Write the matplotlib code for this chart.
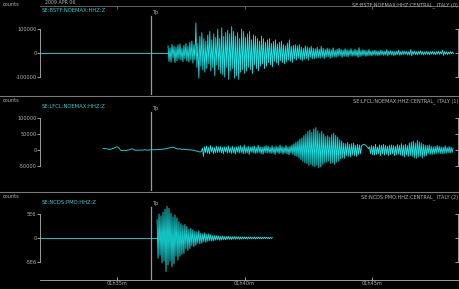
import numpy as np
import matplotlib.pyplot as plt
from matplotlib.lines import Line2D

# time axis: minutes after 01h00m UTC, amplitudes in thousands of counts
t_left, t_right = 31.98, 48.37
tp_time = 36.33
dt = 0.039

bstf_start = 31.98
bstf_onset = 37.0
bstf_k = [30, -35, 22, -38, 36, -20, 28, -40, 25, -32,
          34, -26, 38, -30, 20, -36, 32, -24, 40, -34,
          28, -38, 45, -30, 50, -42, 35, -28, 125, -60,
          40, -105, 70, -55, 85, -70, 60, -80, 50, -65,
          75, -45, 90, -75, 55, -60, 80, -95, 65, -50,
          100, -70, 60, -85, 105, -90, 70, -100, 85, -60,
          95, -110, 80, -75, 110, -65, 90, -105, 70, -95,
          85, -110, 60, -80, 100, -70, 90, -85, 65, -75,
          80, -60, 90, -70, 55, -85, 75, -50, 70, -65,
          60, -75, 50, -55, 70, -45, 60, -65, 45, -55,
          55, -40, 60, -50, 40, -58, 48, -35, 55, -42,
          38, -50, 45, -32, 50, -40, 35, -45, 30, -38,
          42, -30, 55, -35, 28, -40, 32, -25, 35, -30,
          30, -22, 35, -28, 25, -32, 20, -26, 30, -24,
          26, -30, 22, -18, 28, -25, 20, -24, 18, -22,
          24, -20, 16, -22, 28, -18, 20, -24, 15, -18,
          20, -15, 18, -22, 14, -18, 22, -16, 12, -18,
          16, -14, 20, -12, 15, -18, 12, -14, 18, -15,
          14, -16, 12, -10, 18, -14, 10, -12, 16, -13,
          12, -18, 22, -15, 10, -12, 14, -10, 12, -14,
          10, -12, 15, -11, 8, -12, 10, -9, 12, -10,
          9, -11, 8, -10, 12, -8, 9, -10, 8, -9,
          14, -12, 8, -7, 10, -9, 8, -11, 7, -9,
          8, -7, 12, -10, 6, -8, 9, -7, 8, -6,
          7, -9, 6, -8, 14, -12, 7, -6, 8, -7,
          6, -8, 7, -5, 9, -7, 6, -8, 5, -6,
          7, -6, 5, -8, 6, -5, 7, -6, 5, -7,
          6, -5, 8, -6, 5, -4, 12, -10, 6, -5,
          5, -6, 4, -5, 6, -4, 5, -3]

lfcl_start = 34.45
lfcl_k = [5, 5, 4, 4, 3, 3, 2, 2, 3, 4,
          5, 6, 7, 9, 10, 9, 6, 2, -1, -2,
          -2, -1, -1, -2, -1, 0, 0, 1, 3, 4,
          3, 1, 0, -1, -1, 0, -1, 0, 0, -1,
          0, 0, 1, 0, 0, -1, 0, 0, 1, 0,
          1, 1, 0, 1, 2, 1, 1, 2, 2, 3,
          2, 3, 3, 4, 4, 5, 6, 7, 7, 8,
          9, 8, 7, 5, 4, 3, 3, 4, 3, 2,
          2, 3, 2, 1, 2, 1, 0, 1, 0, 0,
          -1, 0, -2, -3, -3, -4, -5, -6, -6, -5,
          6, -20, 10, -8, 12, -10, 8, -12, 14, -6,
          9, -11, 7, -9, 12, -8, 10, -7, 11, -9,
          8, -12, 10, -6, 9, -10, 13, -8, 7, -11,
          12, -9, 8, -13, 10, -7, 11, -10, 14, -8,
          9, -12, 16, -10, 8, -9, 12, -14, 10, -7,
          11, -9, 13, -11, 8, -10, 15, -8, 10, -12,
          9, -13, 11, -8, 14, -10, 12, -9, 8, -11,
          13, -10, 9, -14, 12, -8, 10, -12, 15, -9,
          11, -13, 9, -10, 14, -12, 10, -15, 12, -9,
          16, -14, 20, -18, 24, -20, 28, -25, 34, -30,
          38, -35, 45, -40, 50, -42, 58, -48, 62, -45,
          55, -50, 66, -52, 70, -48, 60, -55, 52, -53,
          58, -45, 50, -40, 42, -38, 45, -35, 40, -42,
          48, -40, 52, -45, 46, -38, 40, -35, 32, -28,
          28, -25, 22, -26, 20, -18, 24, -20, 18, -22,
          20, -16, 22, -18, 15, -20, 18, -14, 16, -12,
          14, 16, 18, 17, 15, 12, 8, 4, 10, -12,
          14, -15, 12, -16, 18, -14, 10, -12, 16, -18,
          15, -12, 18, -16, 14, -13, 12, -17, 15, -14,
          16, -12, 14, -18, 12, -15, 17, -13, 14, -16,
          20, -18, 15, -22, 18, -16, 14, -20, 22, -18,
          25, -20, 28, -24, 22, -26, 30, -22, 25, -20,
          22, -25, 18, -20, 15, -18, 14, -12, 16, -14,
          12, -14, 10, -13, 11, -12, 14, -10, 12, -11,
          10, -12, 9, -11, 13, -10, 8, -9, 11, -10,
          9, -8, 6]

ncds_start = 31.98
ncds_onset = 36.57
ncds_k = [3800, -4200, 5000, -3600, 4600, -5200, 5400, -4800, 6000, -7000,
          6600, -5600, 6200, -4800, 5200, -6000, 4400, -5400, 4800, -3800,
          4200, -4600, 3400, -3800, 3000, -3400, 2600, -3200, 2800, -2200,
          2400, -2600, 1800, -2200, 2000, -1600, 1700, -1800, 1400, -1500,
          1300, -1100, 1500, -1200, 1000, -1100, 900, -800, 1100, -900,
          800, -700, 900, -600, 700, -650, 500, -600, 550, -450,
          500, -400, 450, -500, 350, -400, 420, -350, 300, -380,
          320, -280, 350, -300, 250, -320, 280, -240, 300, -260,
          260, -220, 240, -280, 200, -230, 250, -200, 220, -180,
          200, -220, 180, -160, 210, -190, 170, -150, 180, -200,
          160, -140, 190, -170, 150, -160, 130, -150, 170, -120,
          140, -130, 110, -150, 120, -100, 80]

time_ticks = [35, 40, 45]
time_labels = ['01h35m', '01h40m', '01h45m']

W, H = 460, 289
grey = '#b4b4b4'
trace_c = '#19e6e6'
title_c = '#3cc8c8'

fig = plt.figure(figsize=(W / 100, H / 100), dpi=100, facecolor='black')


def fy(py):
    return 1 - py / H


def make_panel(top, bottom, px_per_count, zero_px, ticks, labels, tp_top):
    ax = fig.add_axes([40 / W, fy(bottom), 418 / W, (bottom - top) / H], facecolor='black')
    ax.set_xlim(t_left, t_right)
    ax.set_ylim(-(bottom - zero_px) / px_per_count, (zero_px - top) / px_per_count)
    for s in ax.spines.values():
        s.set_visible(False)
    ax.spines['left'].set_visible(True)
    ax.spines['left'].set_color(grey)
    ax.spines['left'].set_linewidth(0.6)
    ax.spines['left'].set_bounds(min(ticks), max(ticks))
    ax.set_yticks(ticks, labels)
    ax.tick_params(axis='y', direction='out', length=2, width=0.6, colors=grey,
                   labelsize=3.6, pad=0.5)
    ax.set_xticks([])
    ax2 = ax.twinx()
    ax2.set_ylim(ax.get_ylim())
    for s in ax2.spines.values():
        s.set_visible(False)
    ax2.spines['right'].set_visible(True)
    ax2.spines['right'].set_color(grey)
    ax2.spines['right'].set_linewidth(0.6)
    ax2.spines['right'].set_bounds(min(ticks), max(ticks))
    ax2.set_yticks(ticks, [''] * len(ticks))
    ax2.tick_params(axis='y', direction='in', length=2, width=0.6, colors=grey)
    frac = (bottom - tp_top) / (bottom - top)
    ax.axvline(tp_time, ymin=0, ymax=frac, color='#9a9a9a', lw=0.9)
    ax.text(tp_time + 0.03, frac + 0.01, 'Tp', transform=ax.get_xaxis_transform(),
            color=grey, fontsize=3.6, va='bottom', ha='left')
    return ax


# panel 1
ax1 = make_panel(6, 95, 24 / 100000, 53, [-100000, 0, 100000],
                 ['-100000', '0', '100000'], 16)
t1 = bstf_onset + dt * np.arange(len(bstf_k))
ax1.plot([bstf_start, bstf_onset], [0, 0], color=trace_c, lw=0.6)
ax1.plot(t1, np.array(bstf_k) * 1000, color=trace_c, lw=0.6)
ax1.spines['top'].set_visible(True)
ax1.spines['top'].set_color('#707070')
ax1.spines['top'].set_linewidth(0.6)
ax1.xaxis.set_ticks_position('top')
ax1.set_xticks(time_ticks, [''] * 3)
ax1.tick_params(axis='x', direction='in', length=2, width=0.6, colors='#707070')

# panel 2
ax2 = make_panel(96, 191, 32 / 100000, 150, [-50000, 0, 50000, 100000],
                 ['-50000', '0', '50000', '100000'], 112)
t2 = lfcl_start + dt * np.arange(len(lfcl_k))
ax2.plot(t2, np.array(lfcl_k) * 1000, color=trace_c, lw=0.6)

# panel 3
ax3 = make_panel(192, 280, 24 / 5e6, 238, [-5e6, 0, 5e6],
                 ['-5E6', '0', '5E6'], 207)
t3 = ncds_onset + dt * np.arange(len(ncds_k))
ax3.plot([ncds_start, ncds_onset], [0, 0], color=trace_c, lw=0.6)
ax3.plot(t3, np.array(ncds_k) * 1000, color=trace_c, lw=0.6)
ax3.spines['bottom'].set_visible(True)
ax3.spines['bottom'].set_color(grey)
ax3.spines['bottom'].set_linewidth(0.6)
ax3.set_xticks(time_ticks, time_labels)
ax3.tick_params(axis='x', direction='in', length=2, width=0.6, colors=grey,
                labelsize=3.6, pad=1)

# separators
for py in [95.5, 191.5]:
    fig.add_artist(Line2D([0, 1], [fy(py), fy(py)], color='#7a7a7a', lw=0.8,
                          transform=fig.transFigure))

# panel texts
stations = [('SE:BSTF:NOEMAX:HHZ:Z', 'SE:BSTF:NOEMAX:HHZ:CENTRAL_ ITALY (0)', 0),
            ('SE:LFCL:NOEMAX:HHZ:Z', 'SE:LFCL:NOEMAX:HHZ:CENTRAL_ ITALY (1)', 96),
            ('SE:NCDS:PMO:HHZ:Z', 'SE:NCDS:PMO:HHZ:CENTRAL_ ITALY (2)', 192)]
for name, full, y0 in stations:
    cy = y0 + 5 if y0 else 5
    fig.text(3 / W, fy(cy), 'counts', color=grey, fontsize=3.6, va='center', ha='left')
    fig.text(458 / W, fy(cy), full, color=grey, fontsize=3.6, va='center', ha='right')
    fig.text(42 / W, fy(y0 + 10), name, color=title_c, fontsize=3.8, va='center', ha='left')
fig.text(45 / W, fy(2.5), '2009 APR 06', color=grey, fontsize=3.4, va='center', ha='left')

fig.savefig('out.png', dpi=100, facecolor='black')
